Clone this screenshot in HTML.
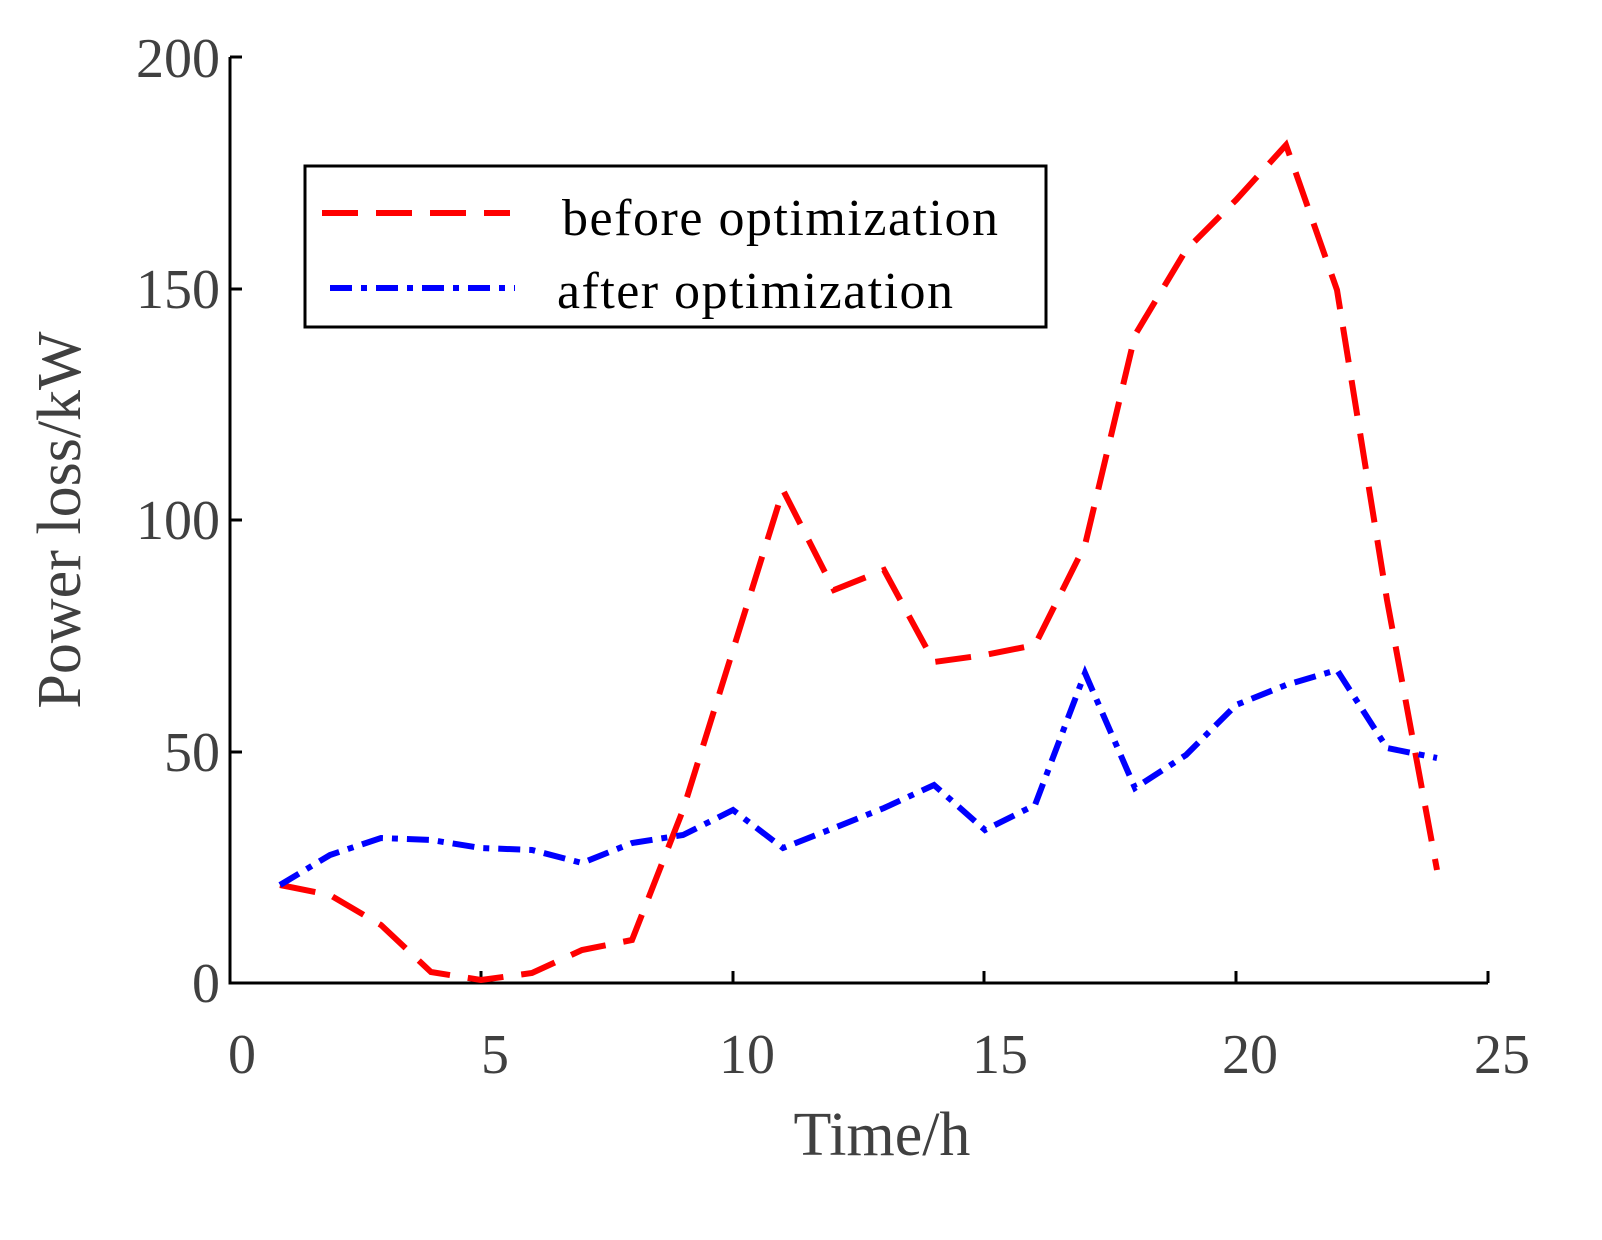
<!DOCTYPE html>
<html><head><style>body{margin:0;background:#fff}</style></head><body>
<svg width="1602" height="1235" xmlns="http://www.w3.org/2000/svg" font-family="Liberation Serif, serif" fill="#404040">
<rect width="1602" height="1235" fill="#fff"/>
<g stroke="#000" stroke-width="3" fill="none">
<path d="M230 57 V983 H1488"/>
<path d="M230 57 h12 M230 289 h12 M230 520 h12 M230 752 h12"/>
<path d="M481 983 v-12 M733 983 v-12 M984 983 v-12 M1236 983 v-12 M1488 983 v-12"/>
</g>
<g font-size="56" text-anchor="end">
<text x="220" y="1002">0</text><text x="220" y="771">50</text><text x="220" y="539">100</text><text x="220" y="308">150</text><text x="220" y="77">200</text>
</g>
<g font-size="56" text-anchor="middle">
<text x="242" y="1073">0</text><text x="495" y="1073">5</text><text x="747" y="1073">10</text><text x="1000" y="1073">15</text><text x="1250" y="1073">20</text><text x="1502" y="1073">25</text>
</g>
<text x="882" y="1155" font-size="62" text-anchor="middle">Time/h</text>
<text transform="translate(80 520) rotate(-90)" font-size="62" text-anchor="middle">Power loss/kW</text>
<polyline fill="none" stroke="#f00" stroke-width="6" stroke-dasharray="36,18" points="280,885 330,895 381,925 431,972 481,980 532,973 582,950 632,940 683,810 733,650 783,490 834,590 884,570 934,662 985,655 1035,645 1085,545 1135,335 1186,250 1236,200 1286,145 1337,290 1387,600 1437,870"/>
<polyline fill="none" stroke="#00f" stroke-width="6" stroke-dasharray="22,9,6,9" points="280,885 330,855 381,838 431,840 481,848 532,850 582,863 632,843 683,835 733,810 783,848 834,828 884,808 934,785 985,830 1035,805 1085,673 1135,788 1186,755 1236,705 1286,685 1337,670 1387,748 1437,758"/>
<rect x="305" y="166" width="741" height="161" fill="#fff" stroke="#000" stroke-width="3"/>
<line x1="322" y1="213" x2="510" y2="213" stroke="#f00" stroke-width="6" stroke-dasharray="36,18"/>
<line x1="330" y1="288" x2="515" y2="288" stroke="#00f" stroke-width="6" stroke-dasharray="22,9,6,9"/>
<g font-size="52" fill="#000">
<text x="562" y="235" textLength="436">before optimization</text>
<text x="557" y="308" textLength="396">after optimization</text>
</g>
</svg>
</body></html>
